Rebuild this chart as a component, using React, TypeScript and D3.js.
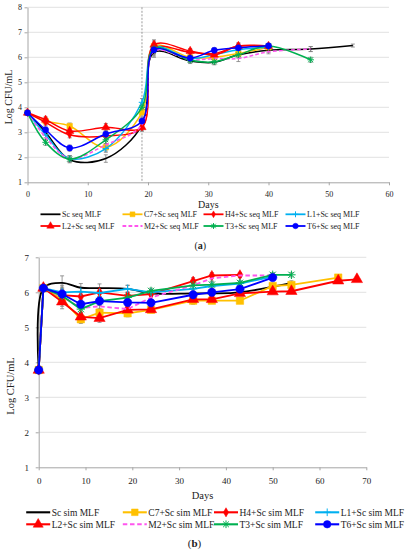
import { useEffect, useRef } from 'react';
import * as d3 from 'd3';

// ---- data: (a) sequential MLF ----
const seqDays = [0, 3, 7, 13, 19, 21, 27, 31, 35, 40, 47, 54];
const scSeq = [3.78, 3.0, 1.9, 1.95, 3.3, 6.2, 5.85, 5.8, 6.1, 6.28, 6.33, 6.47];
const c7Seq = [3.78, 3.45, 3.25, 2.4, 3.8, 6.45, 6.0, 6.0, 6.15, 6.4];
const h4Seq = [3.78, 3.4, 2.9, 2.85, 3.2, 6.35, 6.2, 6.15, 6.45, 6.4];
const l1Seq = [3.78, 2.9, 1.95, 2.35, 4.2, 6.4, 5.95, 6.1, 6.3, 6.4];
const l2Seq = [3.78, 3.5, 3.05, 3.2, 3.2, 6.5, 6.25, 6.1, 6.45, 6.45];
const m2Seq = [3.78, 2.8, 1.95, 2.5, 3.3, 6.25, 5.9, 5.95, 5.95, 6.22, 6.33];
const t3Seq = [3.78, 2.6, 1.93, 2.7, 4.0, 6.35, 5.88, 5.82, 6.1, 6.45, 5.9];
const t6Seq = [3.78, 3.1, 2.37, 2.93, 3.45, 6.3, 5.97, 6.28, 6.38, 6.46];
const seqErr = [0.05, 0.12, 0.12, 0.15, 0.15, 0.2, 0.1, 0.1, 0.12, 0.08, 0.1, 0.06];

// ---- data: (b) simultaneous MLF ----
const simDays = [0, 1, 5, 9, 13, 19, 24, 33, 37, 43, 50, 54, 64, 68];
const scSim = [3.78, 6.12, 6.27, 6.13, 6.12, 6.1, 5.97, 5.97, 5.97, 6.0, 6.16, 6.27];
const c7Sim = [3.78, 6.12, 5.8, 5.23, 5.42, 5.4, 5.5, 5.76, 5.76, 5.76, 6.18, 6.21, 6.42];
const h4Sim = [3.78, 6.12, 5.92, 5.88, 6.0, 5.9, 5.95, 6.32, 6.48, 6.5];
const l1Sim = [3.78, 6.12, 6.0, 6.02, 5.98, 6.1, 6.0, 6.1, 6.18, 6.25, 6.45];
const l2Sim = [3.78, 6.12, 5.73, 5.3, 5.26, 5.5, 5.51, 5.8, 5.8, 5.97, 6.02, 6.03, 6.33, 6.37];
const m2Sim = [3.78, 6.12, 5.88, 5.55, 5.6, 5.52, 5.85, 6.2, 6.4, 6.48, 6.48];
const t3Sim = [3.78, 6.12, 5.9, 5.52, 5.75, 5.85, 6.04, 6.2, 6.22, 6.27, 6.5, 6.5];
const t6Sim = [3.78, 6.12, 5.95, 5.66, 5.75, 5.71, 5.7, 5.93, 6.0, 6.09, 6.42];
const simErr = [0.04, 0.05, 0.2, 0.12, 0.12, 0.1, 0.08, 0.1, 0.08, 0.06, 0.06, 0.06, 0.05, 0.05];

const strains = ['Sc', 'C7+Sc', 'H4+Sc', 'L1+Sc', 'L2+Sc', 'M2+Sc', 'T3+Sc', 'T6+Sc'];
const colors = ['#000000', '#FFC000', '#FF0000', '#00B0F0', '#FF0000', '#FF55EE', '#00B050', '#0000FF'];
const markers = ['none', 'square', 'diamond', 'plus', 'triangle', 'none', 'star', 'circle'];

type Series = { name: string; color: string; marker: string; values: number[] };

interface PanelCfg {
  days: number[];
  series: number[][];
  err: number[];
  suffix: string;
  xMax: number;
  yMin: number;
  yMax: number;
  x0: number; x1: number; yTop: number; yBot: number;
  fs: number; lw: number; ms: number;
  tickX: number; tickYRight: number; labelX: number; labelY: number; daysY: number; labelFs: number;
  legendY: number[]; legendTextX: number[]; legendLine: number; legendFs: number;
  caption: string; captionY: number;
  smooth: (i: number) => boolean;
  vline?: number;
}

const FONT = 'Liberation Serif, Times New Roman, serif';

const markerPath = (m: string, size: number) => {
  const s = Math.sqrt(size) / 2 + 0.5;
  if (m === 'plus') return `M${-s},0H${s}M0,${-s}V${s}`;
  if (m === 'star') {
    const t = s * 0.75;
    return `M${-s},0H${s}M0,${-s}V${s}M${-t},${-t}L${t},${t}M${-t},${t}L${t},${-t}`;
  }
  const type = m === 'square' ? d3.symbolSquare : m === 'diamond' ? d3.symbolDiamond : m === 'triangle' ? d3.symbolTriangle : d3.symbolCircle;
  return d3.symbol().type(type).size(m === 'diamond' ? size * 0.55 : size)() || '';
};

const drawPanel = (root: d3.Selection<SVGGElement, unknown, null, undefined>, c: PanelCfg) => {
  const g = root.append('g').style('font-family', FONT);
  const x = d3.scaleLinear().domain([0, c.xMax]).range([c.x0, c.x1]);
  const y = d3.scaleLinear().domain([c.yMin, c.yMax]).range([c.yBot, c.yTop]);

  // gridlines
  g.append('g')
    .selectAll('line')
    .data(d3.range(c.yMin + 1, c.yMax + 1))
    .join('line')
    .attr('x1', c.x0).attr('x2', c.x1)
    .attr('y1', d => y(d)).attr('y2', d => y(d))
    .attr('stroke', '#D9D9D9').attr('stroke-width', 0.8);

  // axes
  const xAxis = g.append('g')
    .attr('transform', `translate(0,${c.yBot})`)
    .call(d3.axisBottom(x).tickValues(d3.range(0, c.xMax + 1, 10)).tickFormat(d3.format('d')).tickSize(3).tickSizeOuter(0));
  xAxis.attr('font-family', null);
  xAxis.select('.domain').attr('stroke', '#A6A6A6');
  xAxis.selectAll('line').attr('stroke', '#A6A6A6');
  xAxis.selectAll('text').style('font-family', FONT).attr('font-size', c.fs).attr('fill', '#222')
    .attr('y', c.tickX - c.yBot).attr('dy', 0);

  const yAxis = g.append('g')
    .attr('transform', `translate(${c.x0},0)`)
    .call(d3.axisLeft(y).tickValues(d3.range(c.yMin, c.yMax + 1)).tickFormat(d3.format('d')).tickSize(3).tickSizeOuter(0));
  yAxis.attr('font-family', null);
  yAxis.select('.domain').attr('stroke', '#A6A6A6');
  yAxis.selectAll('line').attr('stroke', '#A6A6A6');
  yAxis.selectAll('text').style('font-family', FONT).attr('font-size', c.fs).attr('fill', '#222')
    .attr('x', c.tickYRight - c.x0);

  // vertical marker line
  if (c.vline !== undefined) {
    g.append('line')
      .attr('x1', x(c.vline)).attr('x2', x(c.vline))
      .attr('y1', c.yTop).attr('y2', c.yBot)
      .attr('stroke', '#808080').attr('stroke-width', 0.8).attr('stroke-dasharray', '2,1.5');
  }

  // axis titles
  g.append('text')
    .attr('transform', `translate(${c.labelX},${c.labelY}) rotate(-90)`)
    .attr('text-anchor', 'middle').attr('dy', '0.35em')
    .attr('font-size', c.labelFs).attr('fill', '#222')
    .text('Log CFU/mL');
  g.append('text')
    .attr('x', (c.x0 + c.x1) / 2).attr('y', c.daysY)
    .attr('text-anchor', 'middle')
    .attr('font-size', c.labelFs).attr('fill', '#222')
    .text('Days');

  const series: Series[] = c.series.map((values, i) => ({
    name: `${strains[i]} ${c.suffix} MLF`, color: colors[i], marker: markers[i], values,
  }));

  // error bars
  series.forEach(s => {
    s.values.forEach((v, j) => {
      const e = c.err[j];
      const px = x(c.days[j]);
      g.append('path')
        .attr('d', `M${px},${y(v - e)}V${y(v + e)}M${px - 2},${y(v - e)}H${px + 2}M${px - 2},${y(v + e)}H${px + 2}`)
        .attr('stroke', '#7F7F7F').attr('stroke-width', 0.8).attr('fill', 'none');
    });
  });

  // lines and markers
  series.forEach((s, i) => {
    const pts = s.values.map((v, j) => [c.days[j], v] as [number, number]);
    const line = d3.line<[number, number]>()
      .x(d => x(d[0])).y(d => y(d[1]))
      .curve(c.smooth(i) ? d3.curveCatmullRom.alpha(0.5) : d3.curveLinear);
    g.append('path')
      .datum(pts)
      .attr('d', line)
      .attr('fill', 'none')
      .attr('stroke', s.color)
      .attr('stroke-width', c.lw)
      .attr('stroke-dasharray', strains[i] === 'M2+Sc' ? `${c.lw * 2.5},${c.lw * 1.5}` : null);
    if (s.marker !== 'none') {
      const stroked = s.marker === 'plus' || s.marker === 'star';
      g.append('g')
        .selectAll('path')
        .data(pts)
        .join('path')
        .attr('transform', d => `translate(${x(d[0])},${y(d[1])})`)
        .attr('d', markerPath(s.marker, c.ms))
        .attr('fill', stroked ? 'none' : s.color)
        .attr('stroke', s.color)
        .attr('stroke-width', stroked ? 1 : 0.5);
    }
  });

  // legend
  series.forEach((s, i) => {
    const row = Math.floor(i / 4);
    const col = i % 4;
    const tx = c.legendTextX[col];
    const ly = c.legendY[row];
    const lg = g.append('g');
    lg.append('line')
      .attr('x1', tx - c.legendLine - 1.5).attr('x2', tx - 1.5)
      .attr('y1', ly).attr('y2', ly)
      .attr('stroke', s.color).attr('stroke-width', c.lw + 0.3)
      .attr('stroke-dasharray', strains[i] === 'M2+Sc' ? `${c.lw * 2.5},${c.lw * 1.5}` : null);
    if (s.marker !== 'none') {
      const stroked = s.marker === 'plus' || s.marker === 'star';
      lg.append('path')
        .attr('transform', `translate(${tx - c.legendLine / 2 - 1.5},${ly})`)
        .attr('d', markerPath(s.marker, c.ms * 0.8))
        .attr('fill', stroked ? 'none' : s.color)
        .attr('stroke', s.color)
        .attr('stroke-width', stroked ? 1 : 0.5);
    }
    lg.append('text')
      .attr('x', tx).attr('y', ly).attr('dy', '0.35em')
      .attr('font-size', c.legendFs).attr('fill', '#222')
      .text(s.name);
  });

  // caption
  const cap = g.append('text')
    .attr('x', (c.x0 + c.x1) / 2 - 8).attr('y', c.captionY)
    .attr('text-anchor', 'middle')
    .attr('font-size', c.fs + 2).attr('fill', '#222');
  cap.append('tspan').text('(');
  cap.append('tspan').attr('font-weight', 'bold').text(c.caption);
  cap.append('tspan').text(')');
};

const App = () => {
  const svgRef = useRef<SVGSVGElement>(null);

  useEffect(() => {
    if (!svgRef.current) return;
    const svg = d3.select(svgRef.current);
    svg.selectAll('*').remove();
    const root = svg.append('g') as d3.Selection<SVGGElement, unknown, null, undefined>;

    drawPanel(root, {
      days: seqDays,
      series: [scSeq, c7Seq, h4Seq, l1Seq, l2Seq, m2Seq, t3Seq, t6Seq],
      err: seqErr,
      suffix: 'seq',
      xMax: 60, yMin: 1, yMax: 8,
      x0: 27.5, x1: 389, yTop: 7.3, yBot: 182.3,
      fs: 8, lw: 1.5, ms: 30,
      tickX: 197, tickYRight: 22, labelX: 8, labelY: 97, daysY: 208, labelFs: 10,
      legendY: [214.3, 226], legendTextX: [62, 144, 225, 307], legendLine: 20, legendFs: 8,
      caption: 'a', captionY: 249,
      smooth: () => true,
      vline: 19,
    });

    drawPanel(root, {
      days: simDays,
      series: [scSim, c7Sim, h4Sim, l1Sim, l2Sim, m2Sim, t3Sim, t6Sim],
      err: simErr,
      suffix: 'sim',
      xMax: 70, yMin: 1, yMax: 7,
      x0: 38.7, x1: 366.3, yTop: 257.3, yBot: 467.3,
      fs: 9, lw: 1.8, ms: 55,
      tickX: 484, tickYRight: 29, labelX: 10, labelY: 386, daysY: 499, labelFs: 10.5,
      legendY: [512.3, 524.3], legendTextX: [51.7, 148.3, 239.5, 340.7], legendLine: 24, legendFs: 9.5,
      caption: 'b', captionY: 547,
      smooth: i => i === 0,
    });
  }, []);

  return (
    <svg
      ref={svgRef}
      width={407}
      height={550}
      style={{ position: 'absolute', left: 0, top: 0, background: '#fff' }}
    />
  );
};

export default App;
